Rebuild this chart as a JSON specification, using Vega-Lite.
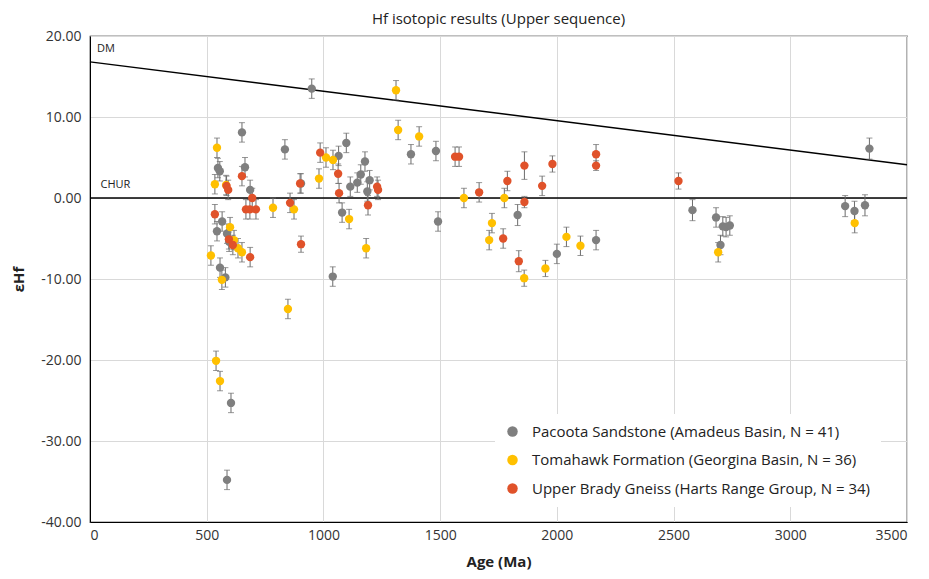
{
  "$schema": "https://vega.github.io/schema/vega-lite/v6.json",
  "width": 817,
  "height": 486,
  "autosize": "none",
  "padding": {"left": 90, "top": 36, "right": 22, "bottom": 57},
  "background": "white",
  "config": {
    "font": "Open Sans",
    "view": {"stroke": "black", "strokeWidth": 1.2},
    "axis": {"labelFontSize": 14, "labelColor": "#333", "ticks": false, "domainColor": "black", "gridColor": "#d9d9d9", "titleFontSize": 15, "titleFontWeight": "bold", "titleColor": "#222"}
  },
  "title": {"text": "Hf isotopic results (Upper sequence)", "fontSize": 15, "fontWeight": "normal", "color": "#222", "offset": 2, "anchor": "middle"},
  "datasets": {
    "samples": [
      {"unit": "Pacoota Sandstone (Amadeus Basin, N = 41)", "age": 548, "eps": 3.7, "err": 1.2},
      {"unit": "Pacoota Sandstone (Amadeus Basin, N = 41)", "age": 556, "eps": 3.3, "err": 1.2},
      {"unit": "Pacoota Sandstone (Amadeus Basin, N = 41)", "age": 544, "eps": -4.1, "err": 1.2},
      {"unit": "Pacoota Sandstone (Amadeus Basin, N = 41)", "age": 557, "eps": -8.6, "err": 1.2},
      {"unit": "Pacoota Sandstone (Amadeus Basin, N = 41)", "age": 566, "eps": -2.9, "err": 1.2},
      {"unit": "Pacoota Sandstone (Amadeus Basin, N = 41)", "age": 580, "eps": -9.8, "err": 1.2},
      {"unit": "Pacoota Sandstone (Amadeus Basin, N = 41)", "age": 587, "eps": -4.4, "err": 1.2},
      {"unit": "Pacoota Sandstone (Amadeus Basin, N = 41)", "age": 596, "eps": -5.4, "err": 1.2},
      {"unit": "Pacoota Sandstone (Amadeus Basin, N = 41)", "age": 604, "eps": -25.3, "err": 1.2},
      {"unit": "Pacoota Sandstone (Amadeus Basin, N = 41)", "age": 587, "eps": -34.8, "err": 1.2},
      {"unit": "Pacoota Sandstone (Amadeus Basin, N = 41)", "age": 651, "eps": 8.1, "err": 1.2},
      {"unit": "Pacoota Sandstone (Amadeus Basin, N = 41)", "age": 664, "eps": 3.8, "err": 1.2},
      {"unit": "Pacoota Sandstone (Amadeus Basin, N = 41)", "age": 686, "eps": 1.0, "err": 1.2},
      {"unit": "Pacoota Sandstone (Amadeus Basin, N = 41)", "age": 835, "eps": 6.0, "err": 1.2},
      {"unit": "Pacoota Sandstone (Amadeus Basin, N = 41)", "age": 904, "eps": 1.8, "err": 1.2},
      {"unit": "Pacoota Sandstone (Amadeus Basin, N = 41)", "age": 950, "eps": 13.5, "err": 1.2},
      {"unit": "Pacoota Sandstone (Amadeus Basin, N = 41)", "age": 1040, "eps": -9.7, "err": 1.2},
      {"unit": "Pacoota Sandstone (Amadeus Basin, N = 41)", "age": 1080, "eps": -1.8, "err": 1.2},
      {"unit": "Pacoota Sandstone (Amadeus Basin, N = 41)", "age": 1065, "eps": 5.2, "err": 1.2},
      {"unit": "Pacoota Sandstone (Amadeus Basin, N = 41)", "age": 1098, "eps": 6.8, "err": 1.2},
      {"unit": "Pacoota Sandstone (Amadeus Basin, N = 41)", "age": 1115, "eps": 1.4, "err": 1.2},
      {"unit": "Pacoota Sandstone (Amadeus Basin, N = 41)", "age": 1145, "eps": 1.9, "err": 1.2},
      {"unit": "Pacoota Sandstone (Amadeus Basin, N = 41)", "age": 1160, "eps": 2.9, "err": 1.2},
      {"unit": "Pacoota Sandstone (Amadeus Basin, N = 41)", "age": 1178, "eps": 4.5, "err": 1.2},
      {"unit": "Pacoota Sandstone (Amadeus Basin, N = 41)", "age": 1188, "eps": 0.8, "err": 1.2},
      {"unit": "Pacoota Sandstone (Amadeus Basin, N = 41)", "age": 1198, "eps": 2.2, "err": 1.2},
      {"unit": "Pacoota Sandstone (Amadeus Basin, N = 41)", "age": 1375, "eps": 5.4, "err": 1.2},
      {"unit": "Pacoota Sandstone (Amadeus Basin, N = 41)", "age": 1482, "eps": 5.8, "err": 1.2},
      {"unit": "Pacoota Sandstone (Amadeus Basin, N = 41)", "age": 1491, "eps": -2.9, "err": 1.2},
      {"unit": "Pacoota Sandstone (Amadeus Basin, N = 41)", "age": 1832, "eps": -2.1, "err": 1.3},
      {"unit": "Pacoota Sandstone (Amadeus Basin, N = 41)", "age": 2000, "eps": -6.9, "err": 1.2},
      {"unit": "Pacoota Sandstone (Amadeus Basin, N = 41)", "age": 2168, "eps": -5.2, "err": 1.2},
      {"unit": "Pacoota Sandstone (Amadeus Basin, N = 41)", "age": 2581, "eps": -1.5, "err": 1.3},
      {"unit": "Pacoota Sandstone (Amadeus Basin, N = 41)", "age": 2682, "eps": -2.4, "err": 1.2},
      {"unit": "Pacoota Sandstone (Amadeus Basin, N = 41)", "age": 2701, "eps": -5.8, "err": 1.2},
      {"unit": "Pacoota Sandstone (Amadeus Basin, N = 41)", "age": 2711, "eps": -3.5, "err": 1.2},
      {"unit": "Pacoota Sandstone (Amadeus Basin, N = 41)", "age": 2725, "eps": -3.6, "err": 1.2},
      {"unit": "Pacoota Sandstone (Amadeus Basin, N = 41)", "age": 2741, "eps": -3.4, "err": 1.2},
      {"unit": "Pacoota Sandstone (Amadeus Basin, N = 41)", "age": 3235, "eps": -1.0, "err": 1.3},
      {"unit": "Pacoota Sandstone (Amadeus Basin, N = 41)", "age": 3275, "eps": -1.6, "err": 1.2},
      {"unit": "Pacoota Sandstone (Amadeus Basin, N = 41)", "age": 3320, "eps": -0.9, "err": 1.3},
      {"unit": "Pacoota Sandstone (Amadeus Basin, N = 41)", "age": 3339, "eps": 6.1, "err": 1.3},
      {"unit": "Tomahawk Formation (Georgina Basin, N = 36)", "age": 518, "eps": -7.1, "err": 1.2},
      {"unit": "Tomahawk Formation (Georgina Basin, N = 36)", "age": 535, "eps": 1.7, "err": 1.2},
      {"unit": "Tomahawk Formation (Georgina Basin, N = 36)", "age": 544, "eps": 6.2, "err": 1.2},
      {"unit": "Tomahawk Formation (Georgina Basin, N = 36)", "age": 540, "eps": -20.1, "err": 1.2},
      {"unit": "Tomahawk Formation (Georgina Basin, N = 36)", "age": 557, "eps": -22.6, "err": 1.2},
      {"unit": "Tomahawk Formation (Georgina Basin, N = 36)", "age": 565, "eps": -10.1, "err": 1.2},
      {"unit": "Tomahawk Formation (Georgina Basin, N = 36)", "age": 583, "eps": 1.6, "err": 1.2},
      {"unit": "Tomahawk Formation (Georgina Basin, N = 36)", "age": 600, "eps": -3.6, "err": 1.2},
      {"unit": "Tomahawk Formation (Georgina Basin, N = 36)", "age": 617, "eps": -5.2, "err": 1.2},
      {"unit": "Tomahawk Formation (Georgina Basin, N = 36)", "age": 634, "eps": -6.2, "err": 1.2},
      {"unit": "Tomahawk Formation (Georgina Basin, N = 36)", "age": 651, "eps": -6.7, "err": 1.2},
      {"unit": "Tomahawk Formation (Georgina Basin, N = 36)", "age": 784, "eps": -1.2, "err": 1.2},
      {"unit": "Tomahawk Formation (Georgina Basin, N = 36)", "age": 848, "eps": -13.7, "err": 1.2},
      {"unit": "Tomahawk Formation (Georgina Basin, N = 36)", "age": 874, "eps": -1.4, "err": 1.2},
      {"unit": "Tomahawk Formation (Georgina Basin, N = 36)", "age": 981, "eps": 2.4, "err": 1.2},
      {"unit": "Tomahawk Formation (Georgina Basin, N = 36)", "age": 1011, "eps": 5.0, "err": 1.2},
      {"unit": "Tomahawk Formation (Georgina Basin, N = 36)", "age": 1041, "eps": 4.7, "err": 1.2},
      {"unit": "Tomahawk Formation (Georgina Basin, N = 36)", "age": 1110, "eps": -2.6, "err": 1.2},
      {"unit": "Tomahawk Formation (Georgina Basin, N = 36)", "age": 1183, "eps": -6.2, "err": 1.2},
      {"unit": "Tomahawk Formation (Georgina Basin, N = 36)", "age": 1311, "eps": 13.3, "err": 1.2},
      {"unit": "Tomahawk Formation (Georgina Basin, N = 36)", "age": 1320, "eps": 8.4, "err": 1.2},
      {"unit": "Tomahawk Formation (Georgina Basin, N = 36)", "age": 1410, "eps": 7.6, "err": 1.2},
      {"unit": "Tomahawk Formation (Georgina Basin, N = 36)", "age": 1602, "eps": 0.0, "err": 1.2},
      {"unit": "Tomahawk Formation (Georgina Basin, N = 36)", "age": 1710, "eps": -5.2, "err": 1.2},
      {"unit": "Tomahawk Formation (Georgina Basin, N = 36)", "age": 1722, "eps": -3.1, "err": 1.2},
      {"unit": "Tomahawk Formation (Georgina Basin, N = 36)", "age": 1775, "eps": 0.0, "err": 1.2},
      {"unit": "Tomahawk Formation (Georgina Basin, N = 36)", "age": 1860, "eps": -9.9, "err": 1.0},
      {"unit": "Tomahawk Formation (Georgina Basin, N = 36)", "age": 1951, "eps": -8.7, "err": 1.0},
      {"unit": "Tomahawk Formation (Georgina Basin, N = 36)", "age": 2041, "eps": -4.8, "err": 1.2},
      {"unit": "Tomahawk Formation (Georgina Basin, N = 36)", "age": 2101, "eps": -5.9, "err": 1.2},
      {"unit": "Tomahawk Formation (Georgina Basin, N = 36)", "age": 2691, "eps": -6.7, "err": 1.2},
      {"unit": "Tomahawk Formation (Georgina Basin, N = 36)", "age": 3276, "eps": -3.1, "err": 1.2},
      {"unit": "Upper Brady Gneiss (Harts Range Group, N = 34)", "age": 535, "eps": -2.0, "err": 1.2},
      {"unit": "Upper Brady Gneiss (Harts Range Group, N = 34)", "age": 585, "eps": 1.5, "err": 1.2},
      {"unit": "Upper Brady Gneiss (Harts Range Group, N = 34)", "age": 592, "eps": 1.0, "err": 1.2},
      {"unit": "Upper Brady Gneiss (Harts Range Group, N = 34)", "age": 595, "eps": -5.1, "err": 1.2},
      {"unit": "Upper Brady Gneiss (Harts Range Group, N = 34)", "age": 612, "eps": -5.8, "err": 1.2},
      {"unit": "Upper Brady Gneiss (Harts Range Group, N = 34)", "age": 651, "eps": 2.7, "err": 1.2},
      {"unit": "Upper Brady Gneiss (Harts Range Group, N = 34)", "age": 668, "eps": -1.4, "err": 1.2},
      {"unit": "Upper Brady Gneiss (Harts Range Group, N = 34)", "age": 685, "eps": -1.4, "err": 1.2},
      {"unit": "Upper Brady Gneiss (Harts Range Group, N = 34)", "age": 695, "eps": 0.0, "err": 1.2},
      {"unit": "Upper Brady Gneiss (Harts Range Group, N = 34)", "age": 711, "eps": -1.4, "err": 1.2},
      {"unit": "Upper Brady Gneiss (Harts Range Group, N = 34)", "age": 686, "eps": -7.3, "err": 1.2},
      {"unit": "Upper Brady Gneiss (Harts Range Group, N = 34)", "age": 857, "eps": -0.6, "err": 1.2},
      {"unit": "Upper Brady Gneiss (Harts Range Group, N = 34)", "age": 900, "eps": 1.8, "err": 1.2},
      {"unit": "Upper Brady Gneiss (Harts Range Group, N = 34)", "age": 904, "eps": -5.7, "err": 1.0},
      {"unit": "Upper Brady Gneiss (Harts Range Group, N = 34)", "age": 986, "eps": 5.6, "err": 1.2},
      {"unit": "Upper Brady Gneiss (Harts Range Group, N = 34)", "age": 1063, "eps": 3.0, "err": 1.2},
      {"unit": "Upper Brady Gneiss (Harts Range Group, N = 34)", "age": 1067, "eps": 0.6, "err": 1.2},
      {"unit": "Upper Brady Gneiss (Harts Range Group, N = 34)", "age": 1191, "eps": -0.9, "err": 1.2},
      {"unit": "Upper Brady Gneiss (Harts Range Group, N = 34)", "age": 1230, "eps": 1.4, "err": 1.2},
      {"unit": "Upper Brady Gneiss (Harts Range Group, N = 34)", "age": 1234, "eps": 1.0, "err": 1.2},
      {"unit": "Upper Brady Gneiss (Harts Range Group, N = 34)", "age": 1564, "eps": 5.1, "err": 1.2},
      {"unit": "Upper Brady Gneiss (Harts Range Group, N = 34)", "age": 1581, "eps": 5.1, "err": 1.2},
      {"unit": "Upper Brady Gneiss (Harts Range Group, N = 34)", "age": 1667, "eps": 0.7, "err": 1.2},
      {"unit": "Upper Brady Gneiss (Harts Range Group, N = 34)", "age": 1770, "eps": -5.0, "err": 1.2},
      {"unit": "Upper Brady Gneiss (Harts Range Group, N = 34)", "age": 1788, "eps": 2.1, "err": 1.2},
      {"unit": "Upper Brady Gneiss (Harts Range Group, N = 34)", "age": 1837, "eps": -7.8, "err": 1.3},
      {"unit": "Upper Brady Gneiss (Harts Range Group, N = 34)", "age": 1861, "eps": 4.0, "err": 1.7},
      {"unit": "Upper Brady Gneiss (Harts Range Group, N = 34)", "age": 1861, "eps": -0.5, "err": 0.7},
      {"unit": "Upper Brady Gneiss (Harts Range Group, N = 34)", "age": 1937, "eps": 1.5, "err": 1.2},
      {"unit": "Upper Brady Gneiss (Harts Range Group, N = 34)", "age": 1981, "eps": 4.2, "err": 1.0},
      {"unit": "Upper Brady Gneiss (Harts Range Group, N = 34)", "age": 2168, "eps": 5.4, "err": 1.2},
      {"unit": "Upper Brady Gneiss (Harts Range Group, N = 34)", "age": 2168, "eps": 4.0, "err": 0.6},
      {"unit": "Upper Brady Gneiss (Harts Range Group, N = 34)", "age": 2521, "eps": 2.1, "err": 1.0}
    ],
    "dm": [{"age": 0, "eps": 16.8}, {"age": 3500, "eps": 4.1}],
    "chur": [{"eps": 0}],
    "labels": [{"age": 30, "eps": 18.4, "text": "DM"}, {"age": 45, "eps": 1.6, "text": "CHUR"}]
  },
  "encoding": {
    "x": {"field": "age", "type": "quantitative", "scale": {"domain": [0, 3500], "nice": false},
      "axis": {"values": [0, 500, 1000, 1500, 2000, 2500, 3000, 3500], "format": "d", "title": "Age (Ma)", "labelPadding": 6, "titlePadding": 12}},
    "y": {"field": "eps", "type": "quantitative", "scale": {"domain": [-40, 20], "nice": false},
      "axis": {"values": [-40, -30, -20, -10, 0, 10, 20], "labelExpr": "replace(format(datum.value, '.2f'), '\u2212', '-')", "title": "εHf", "labelPadding": 9, "titlePadding": 14}}
  },
  "layer": [
    {
      "data": {"name": "dm"},
      "mark": {"type": "line", "color": "black", "strokeWidth": 1.4},
      "encoding": {}
    },
    {
      "data": {"name": "chur"},
      "mark": {"type": "rule", "color": "black", "strokeWidth": 1.4},
      "encoding": {"x": {"value": 0}, "x2": {"value": 817}}
    },
    {
      "data": {"name": "samples"},
      "mark": {"type": "errorbar", "ticks": {"size": 6, "color": "#6b6b6b", "strokeWidth": 1}, "rule": {"color": "#6b6b6b", "strokeWidth": 1}},
      "encoding": {"yError": {"field": "err"}}
    },
    {
      "data": {"name": "samples"},
      "mark": {"type": "circle", "size": 70, "opacity": 1},
      "encoding": {
        "color": {"field": "unit", "type": "nominal",
          "scale": {"domain": ["Pacoota Sandstone (Amadeus Basin, N = 41)", "Tomahawk Formation (Georgina Basin, N = 36)", "Upper Brady Gneiss (Harts Range Group, N = 34)"], "range": ["#7f7f7f", "#ffc000", "#e0522a"]},
          "legend": {"title": null, "orient": "none", "legendX": 405, "legendY": 378, "fillColor": "white", "padding": 10, "labelFontSize": 15, "labelColor": "#222", "symbolSize": 110, "symbolType": "circle", "rowPadding": 12.5, "labelOffset": 12, "labelLimit": 600}
        }
      }
    },
    {
      "data": {"name": "labels"},
      "mark": {"type": "text", "align": "left", "fontSize": 11, "color": "#222"},
      "encoding": {"text": {"field": "text"}}
    }
  ]
}
